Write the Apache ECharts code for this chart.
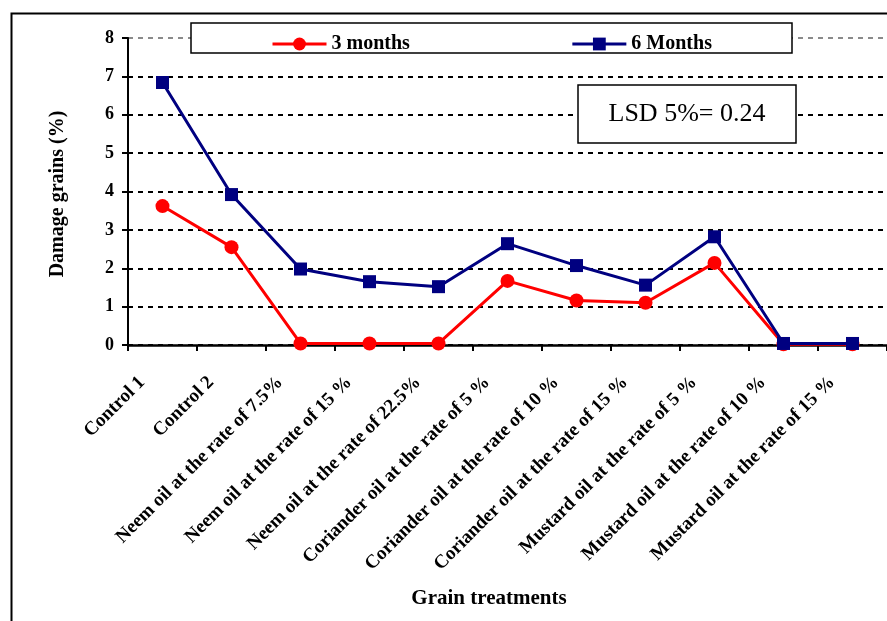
<!DOCTYPE html>
<html>
<head>
<meta charset="utf-8">
<script src="https://cdn.jsdelivr.net/npm/echarts@6/dist/echarts.min.js"></script>
<style>
html,body{margin:0;padding:0;background:#fff;}
#chart{width:887px;height:621px;}
</style>
</head>
<body>
<div id="chart"></div>
<script>
const categories = [
  'Control 1',
  'Control 2',
  'Neem oil at the rate of 7.5%',
  'Neem oil at the rate of 15 %',
  'Neem oil at the rate of 22.5%',
  'Coriander oil at the rate of 5 %',
  'Coriander oil at the rate of 10 %',
  'Coriander oil at the rate of 15 %',
  'Mustard oil at the rate of 5 %',
  'Mustard oil at the rate of 10 %',
  'Mustard oil at the rate of 15 %'
];
const months3 = [3.62, 2.55, 0.04, 0.04, 0.04, 1.67, 1.16, 1.10, 2.14, 0.02, 0.02];
const months6 = [6.84, 3.92, 1.98, 1.65, 1.52, 2.64, 2.07, 1.56, 2.82, 0.04, 0.04];
const yTicks = [0, 1, 2, 3, 4, 5, 6, 7, 8];
const seriesNames = ['3 months', '6 Months'];
const lsdText = 'LSD 5%= 0.24';
const yTitle = 'Damage grains (%)';
const xTitle = 'Grain treatments';

const serif = "'Liberation Serif', 'Times New Roman', serif";
const chart = echarts.init(document.getElementById('chart'), null, {renderer: 'canvas'});

const gridColors = yTicks.map((v, i) => i === yTicks.length - 1 ? '#8a8a8a' : '#000');

chart.setOption({
  animation: false,
  backgroundColor: '#fff',
  grid: {left: 128, right: -2, top: 38, bottom: 276, containLabel: false},
  legend: {
    left: 266, top: 29,
    itemWidth: 54, itemHeight: 16, itemGap: 161,
    lineStyle: {width: 3},
    textStyle: {fontFamily: serif, fontWeight: 'bold', fontSize: 20, color: '#000'},
    data: seriesNames
  },
  xAxis: {
    type: 'category',
    data: categories,
    boundaryGap: true,
    axisLine: {lineStyle: {color: '#000', width: 2.5}},
    axisTick: {show: true, inside: false, length: 6, alignWithLabel: false, lineStyle: {color: '#000', width: 2}},
    axisLabel: {
      interval: 0, rotate: 45, margin: 14,
      padding: [0, 29, 0, 0],
      fontFamily: serif, fontWeight: 'bold', fontSize: 19, color: '#000'
    },
    splitLine: {show: false}
  },
  yAxis: {
    type: 'value',
    min: 0, max: 8, interval: 1,
    axisLine: {show: true, lineStyle: {color: '#000', width: 2}},
    axisTick: {show: true, length: 6, lineStyle: {color: '#000', width: 2}},
    axisLabel: {margin: 14, fontFamily: serif, fontWeight: 'bold', fontSize: 18, color: '#000'},
    splitLine: {show: true, lineStyle: {color: gridColors, width: 2, type: [5, 5]}}
  },
  graphic: [
    {type: 'rect', left: 9, top: 11, shape: {width: 900, height: 700},
     style: {fill: 'none', stroke: '#000', lineWidth: 2}, z: 0, silent: true},
    {type: 'rect', shape: {x: 191, y: 23, width: 601, height: 30},
     style: {fill: '#fff', stroke: '#000', lineWidth: 1.5}, z: 1, silent: true},
    {type: 'rect', shape: {x: 578, y: 85, width: 218, height: 58},
     style: {fill: '#fff', stroke: '#000', lineWidth: 1.5}, z: 100, silent: true},
    {type: 'text', x: 687, y: 114, z: 101,
     style: {text: lsdText, fontFamily: serif, fontSize: 26, fill: '#000', align: 'center', verticalAlign: 'middle'}},
    {type: 'text', x: 58, y: 194, rotation: Math.PI / 2, z: 101,
     style: {text: yTitle, fontFamily: serif, fontWeight: 'bold', fontSize: 20, fill: '#000', align: 'center', verticalAlign: 'middle'}},
    {type: 'text', x: 489, y: 599, z: 101,
     style: {text: xTitle, fontFamily: serif, fontWeight: 'bold', fontSize: 21, fill: '#000', align: 'center', verticalAlign: 'middle'}}
  ],
  series: [
    {
      name: seriesNames[0], type: 'line', data: months3,
      symbol: 'circle', symbolSize: 14,
      lineStyle: {color: '#ff0000', width: 3},
      itemStyle: {color: '#ff0000'},
      z: 3
    },
    {
      name: seriesNames[1], type: 'line', data: months6,
      symbol: 'rect', symbolSize: 13,
      lineStyle: {color: '#000080', width: 3},
      itemStyle: {color: '#000080'},
      z: 4
    }
  ]
});
</script>
</body>
</html>
